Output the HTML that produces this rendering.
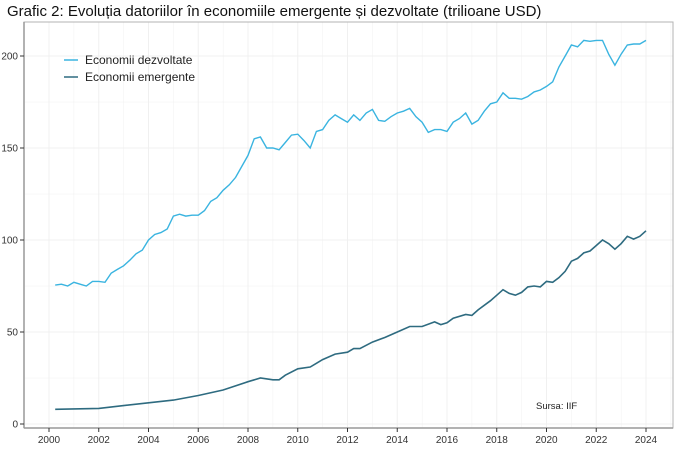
<!DOCTYPE html>
<html><head><meta charset="utf-8"><style>
body{margin:0;background:#fff;}
svg{display:block;font-family:"Liberation Sans",sans-serif;}
</style></head><body>
<svg id="s" width="700" height="456" xmlns="http://www.w3.org/2000/svg">
<text x="7" y="16" font-size="15" fill="#111">Grafic 2: Evoluția datoriilor în economiile emergente și dezvoltate (trilioane USD)</text>
<g id="grid"></g>
<rect x="24" y="22" width="649" height="406" fill="none" stroke="#b3b3b3" stroke-width="1"/>
<line x1="24" y1="22" x2="24" y2="428" stroke="#999" stroke-width="1.5"/>
<line x1="24" y1="428" x2="673" y2="428" stroke="#999" stroke-width="1.5"/>
<g id="ticks" font-size="10" fill="#333"></g>
<g id="lines"></g>
<line x1="64" y1="60" x2="78" y2="60" stroke="#3ab4e0" stroke-width="1.5"/>
<text x="85" y="64" font-size="12" fill="#222">Economii dezvoltate</text>
<line x1="64" y1="77" x2="78" y2="77" stroke="#2e6b80" stroke-width="1.5"/>
<text x="85" y="81" font-size="12" fill="#222">Economii emergente</text>
<text x="536" y="409" font-size="9.5" fill="#222">Sursa: IIF</text>
</svg>
<script>
const X=t=>49+(t-2000)*24.875, Y=v=>424-1.84*v;
let g='',tk='';
for(let v=0;v<=200;v+=25){const y=Y(v);g+=`<line x1="24" x2="673" y1="${y}" y2="${y}" stroke="#f0f0f0" stroke-width="${v%50?0.5:1}"/>`;}
for(let t=1999;t<=2025;t++){const x=X(t);if(x>24&&x<673)g+=`<line y1="22" y2="428" x1="${x}" x2="${x}" stroke="#f0f0f0" stroke-width="${t%2?0.5:1}"/>`;}
for(let v=0;v<=200;v+=50){const y=Y(v);tk+=`<line x1="20" x2="24" y1="${y}" y2="${y}" stroke="#333"/><text x="18" y="${y+3.5}" text-anchor="end">${v}</text>`;}
for(let t=2000;t<=2024;t+=2){const x=X(t);tk+=`<line x1="${x}" x2="${x}" y1="428" y2="432" stroke="#333"/><text x="${x}" y="443" text-anchor="middle">${t}</text>`;}
document.getElementById('grid').innerHTML=g;document.getElementById('ticks').innerHTML=tk;
const dev=[75.5,76,75,77,76,75,77.5,77.5,77,82,84,86,89,92.5,94.5,100,103,104,106,113,114,113,113.5,113.5,116,121,123,127,130,134,140,146,155,156,150,150,149,153,157,157.5,154,150,159,160,165,168,166,164,168,165,169,171,165,164.5,167,169,170,171.5,167,164,158.5,160,160,159,164,166,169,163,165,170,174,175,180,177,177,176.5,178,180.5,181.5,183.5,186,194,200,206,205,208.5,208,208.5,208.5,201,195,201,206,206.5,206.5,208.5];
const emk={2000.25:8,2002:8.5,2003:10,2004:11.5,2005:13,2006:15.5,2007:18.5,2008:23,2008.5:25,2009:24,2009.25:24,2009.5:26.5,2010:30,2010.5:31,2010.75:33,2011:35,2011.5:38,2012:39,2012.25:41,2012.5:41,2013:44.5,2013.5:47,2014:50,2014.5:53,2015:53,2015.5:55.5,2015.75:54,2016:55,2016.25:57.5,2016.75:59.5,2017:59,2017.25:62,2017.75:67,2018:70,2018.25:73,2018.5:71,2018.75:70,2019:71.5,2019.25:74.5,2019.5:75,2019.75:74.5,2020:77.5,2020.25:77,2020.5:79.5,2020.75:83,2021:88.5,2021.25:90,2021.5:93,2021.75:94,2022:97,2022.25:100,2022.5:98,2022.75:95,2023:98,2023.25:102,2023.5:100.5,2023.75:102,2024:105};
const p1=dev.map((v,i)=>X(2000.25+i*0.25).toFixed(1)+','+Y(v).toFixed(1)).join(' ');
const ks=Object.keys(emk).map(Number).sort((a,b)=>a-b);
const p2=ks.map(k=>X(k).toFixed(1)+','+Y(emk[k]).toFixed(1)).join(' ');
document.getElementById('lines').innerHTML=`<polyline points="${p1}" fill="none" stroke="#3ab4e0" stroke-width="1.4"/><polyline points="${p2}" fill="none" stroke="#2e6b80" stroke-width="1.6"/>`;
</script>
</body></html>
